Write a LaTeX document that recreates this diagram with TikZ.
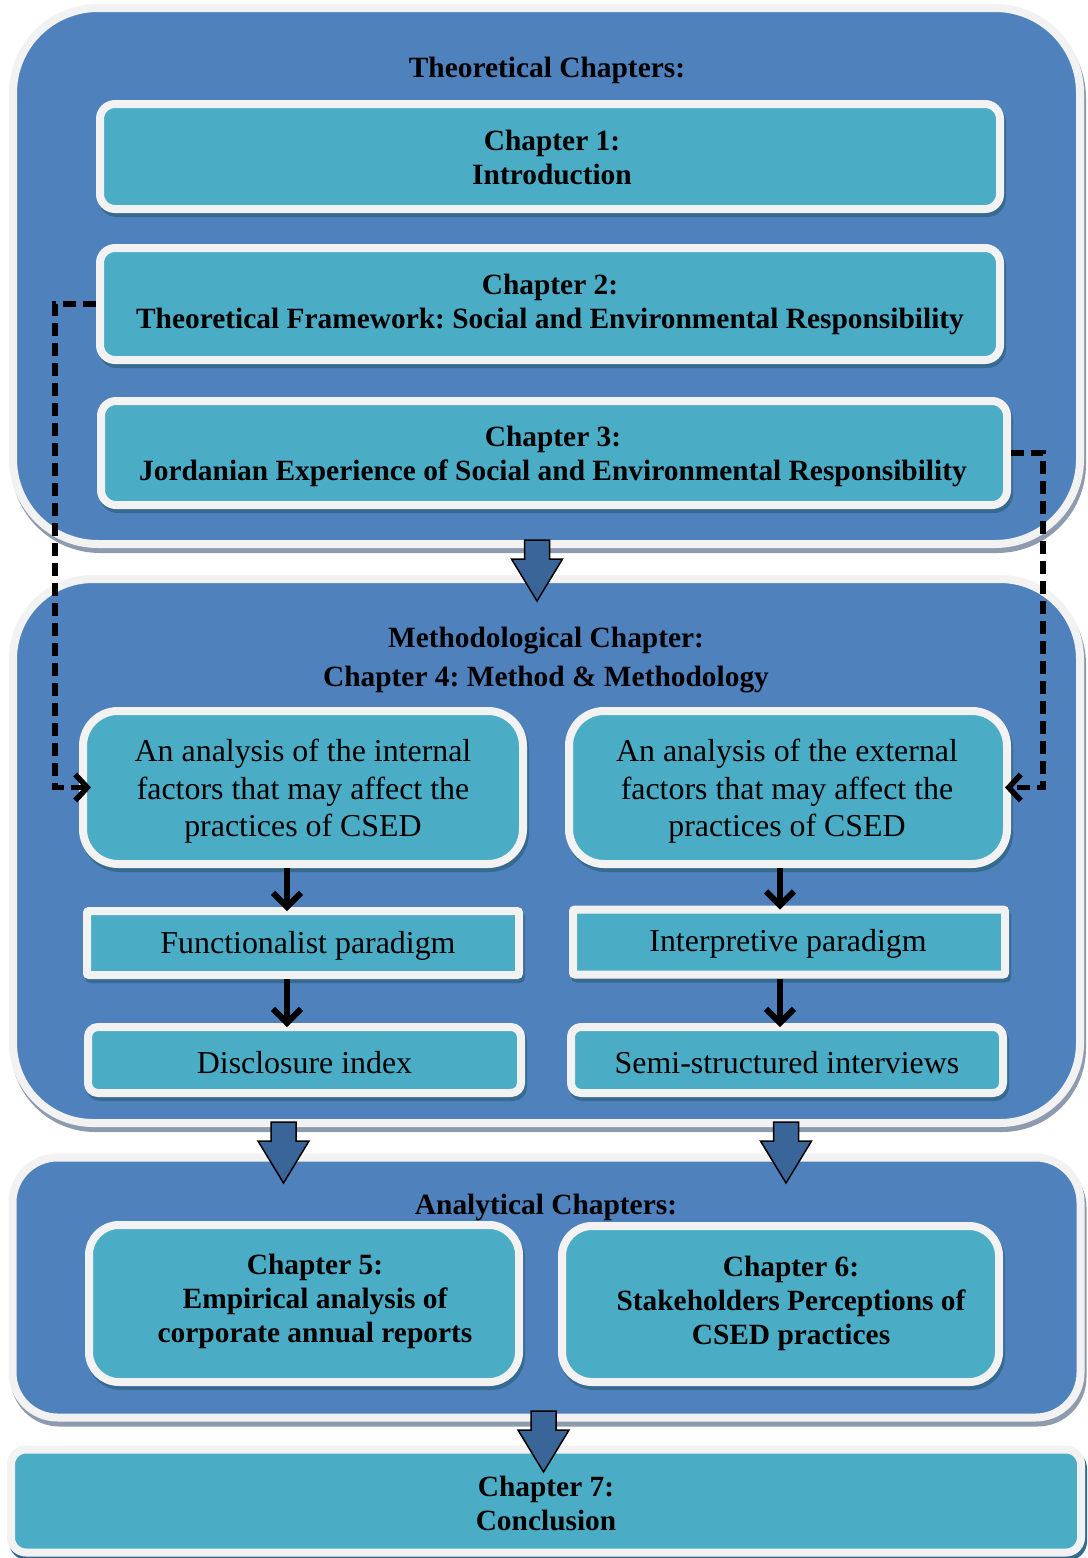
\documentclass[tikz,border=0pt]{standalone}
\usepackage{fontspec}
\setmainfont{Liberation Serif}
\frenchspacing
\usetikzlibrary{shadows,arrows.meta,calc}

\definecolor{frameblue}{HTML}{4F81BD}
\definecolor{boxteal}{HTML}{4BACC6}
\definecolor{rimwhite}{HTML}{F2F2F2}
\definecolor{outershade}{HTML}{8E9AAE}
\definecolor{innershade}{HTML}{376A90}
\definecolor{arrowfill}{HTML}{3A6598}

\tikzset{
  panel/.style={draw=rimwhite, fill=frameblue, line width=8pt,
    rounded corners=#1, inner sep=0pt,
    drop shadow={shadow xshift=2pt, shadow yshift=-5pt, fill=outershade,
      draw=outershade, line width=8pt, opacity=1}},
  chbox/.style={draw=rimwhite, fill=boxteal, line width=8pt,
    rounded corners=#1, inner sep=0pt,
    drop shadow={shadow xshift=2pt, shadow yshift=-4pt, fill=innershade,
      draw=innershade, line width=8pt, opacity=1}},
  chbox/.default=15pt,
  boldtxt/.style={font=\fontsize{29.4}{34}\selectfont\bfseries, align=center, inner sep=0pt},
  plaintxt/.style={font=\fontsize{31.9}{37.5}\selectfont, align=center, inner sep=0pt},
  flowarrow/.style={line width=6pt, -{Straight Barb[length=14pt,width=28pt]}},
  dashlink/.style={line width=5.5pt, dash pattern=on 13pt off 7pt,
    -{Straight Barb[length=12pt,width=26pt]}},
  downblock/.pic={
    \draw[fill=arrowfill, draw=black, line width=1.5pt, line join=miter]
      (-12.5,0) -- (12.5,0) -- (12.5,19) -- (25.5,19) -- (0,61)
      -- (-25.5,19) -- (-12.5,19) -- cycle;}
}

\begin{document}
\begin{tikzpicture}[x=1pt,y=-1pt]
  \fill[white] (0,0) rectangle (1087,1558);
  \useasboundingbox (0,0) rectangle (1087,1558);

  % three stage panels
  \node[panel=85pt, minimum width=1067pt, minimum height=536pt] (theo) at (546.5,276) {};
  \node[panel=80pt, minimum width=1067pt, minimum height=544pt] (meth) at (546.5,851) {};
  \node[panel=45pt, minimum width=1068pt, minimum height=260pt] (anal) at (546.5,1287.5) {};

  % theoretical chapters
  \node[boldtxt] (ttheo) at (547,70) {Theoretical Chapters:};
  \node[chbox, minimum width=900pt, minimum height=105pt] (ch1) at (550,156.5) {};
  \node[boldtxt] (ch1txt) at ($(ch1)+(2,1)$) {Chapter 1:\\Introduction};
  \node[chbox, minimum width=900pt, minimum height=112pt] (ch2) at (550,304) {};
  \node[boldtxt] (ch2txt) at ($(ch2)+(0,0.5)$)
    {Chapter 2:\\Theoretical Framework: Social and Environmental Responsibility};
  \node[chbox, minimum width=906pt, minimum height=104pt] (ch3) at (554,453) {};
  \node[boldtxt] (ch3txt) at ($(ch3)+(-1,3.5)$)
    {Chapter 3:\\Jordanian Experience of Social and Environmental Responsibility};

  % methodological chapter
  \node[boldtxt, font=\fontsize{29.4}{39}\selectfont\bfseries] (tmeth) at (546,660)
    {Methodological Chapter:\\Chapter 4: Method \& Methodology};
  \node[chbox=35pt, minimum width=440pt, minimum height=153pt] (int) at (303,787.5) {};
  \node[plaintxt] (inttxt) at ($(int)+(0,4)$)
    {An analysis of the internal\\factors that may affect the\\practices of CSED};
  \node[chbox=35pt, minimum width=438pt, minimum height=153pt] (ext) at (788,787.5) {};
  \node[plaintxt] (exttxt) at ($(ext)+(-1,4)$)
    {An analysis of the external\\factors that may affect the\\practices of CSED};
  \node[chbox=2pt, minimum width=432pt, minimum height=64pt] (func) at (303,943) {};
  \node[plaintxt] (functxt) at ($(func)+(5,3)$) {Functionalist paradigm};
  \node[chbox=2pt, minimum width=432pt, minimum height=65pt] (interp) at (789,942) {};
  \node[plaintxt] (interptxt) at ($(interp)+(-1,2)$) {Interpretive paradigm};
  \node[chbox=10pt, minimum width=433pt, minimum height=66pt] (disc) at (304.5,1060) {};
  \node[plaintxt] (disctxt) at ($(disc)+(0,3)$) {Disclosure index};
  \node[chbox=10pt, minimum width=432pt, minimum height=66pt] (semi) at (787,1060) {};
  \node[plaintxt] (semitxt) at ($(semi)+(0,3)$) {Semi-structured interviews};

  % analytical chapters
  \node[boldtxt] (tanal) at (546,1207) {Analytical Chapters:};
  \node[chbox=30pt, minimum width=430pt, minimum height=157pt] (ch5) at (304,1303.5) {};
  \node[boldtxt] (ch5txt) at (315,1301)
    {Chapter 5:\\Empirical analysis of\\corporate annual reports};
  \node[chbox=30pt, minimum width=437pt, minimum height=156pt] (ch6) at (780.5,1304) {};
  \node[boldtxt] (ch6txt) at (791,1303)
    {Chapter 6:\\Stakeholders Perceptions of\\CSED practices};

  % conclusion
  \node[chbox, minimum width=1070pt, minimum height=103pt] (ch7) at (546,1501) {};
  \node[boldtxt] (ch7txt) at ($(ch7)+(0,2.5)$) {Chapter 7:\\Conclusion};

  % arrows inside the methodology panel
  \coordinate (lcol) at (287,0);
  \coordinate (rcol) at (780,0);
  \draw[flowarrow, shorten >=-4pt] (int.south -| lcol) -- (func.north -| lcol);
  \draw[flowarrow, shorten >=-4pt] (func.south -| lcol) -- (disc.north -| lcol);
  \draw[flowarrow, shorten >=-4pt] (ext.south -| rcol) -- (interp.north -| rcol);
  \draw[flowarrow, shorten >=-4pt] (interp.south -| rcol) -- (semi.north -| rcol);

  % dashed links from the theory chapters to the analyses
  \draw[dashlink, shorten >=-12pt] (ch2.west) -- ++(-41,0) |- (int.west);
  \draw[dashlink, shorten >=-6pt] (ch3.east) -- ++(32,0) |- (ext.east);

  % block arrows between stages
  \pic at ($(theo.south)+(-9.5,-8)$) {downblock};
  \pic at ($(meth.south)+(-263,-5)$) {downblock};
  \pic at ($(meth.south)+(239.5,-5)$) {downblock};
  \pic at ($(anal.south)+(-3,-10.5)$) {downblock};
\end{tikzpicture}
\end{document}
